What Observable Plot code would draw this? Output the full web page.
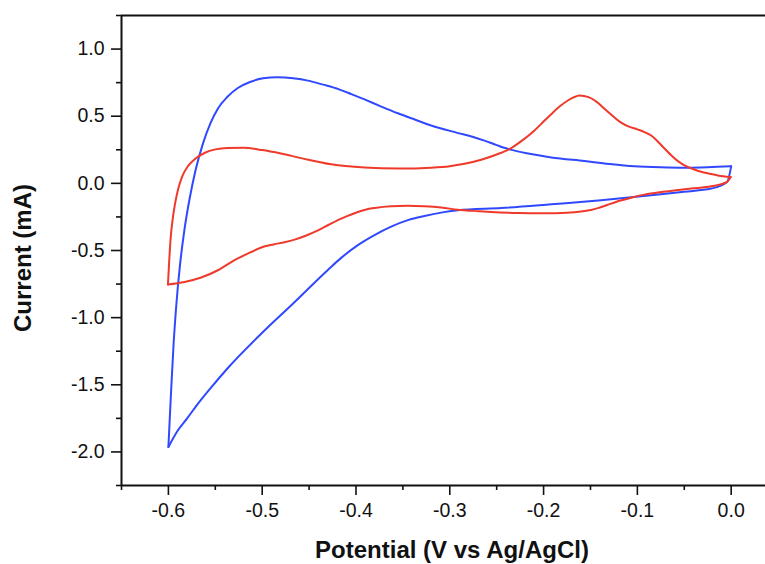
<!DOCTYPE html>
<html><head><meta charset="utf-8">
<script src="https://cdn.jsdelivr.net/npm/d3@7"></script>
<script src="https://cdn.jsdelivr.net/npm/@observablehq/plot@0.6"></script>
<style>body{margin:0;background:#fff;overflow:hidden}</style>
</head><body><div id="chart"></div><script>
// Blue CV: anodic (upper) branch, potential V vs Ag/AgCl and current mA
const blueUpV = [-0.6000,-0.5975,-0.5945,-0.5915,-0.5875,-0.5830,-0.5770,-0.5710,-0.5630,-0.5550,-0.5470,-0.5370,-0.5260,-0.5130,-0.4990,-0.4840,-0.4670,-0.4500,-0.4350,-0.4180,-0.4050,-0.3909,-0.3730,-0.3553,-0.3380,-0.3198,-0.2930,-0.2750,-0.2630,-0.2500,-0.2364,-0.2150,-0.1919,-0.1564,-0.1300,-0.1031,-0.0750,-0.0498,-0.0250,0.0000];
const blueUpI = [-1.963,-1.60,-1.20,-0.90,-0.60,-0.35,-0.10,0.10,0.30,0.45,0.56,0.645,0.71,0.755,0.782,0.790,0.783,0.763,0.735,0.700,0.665,0.625,0.572,0.522,0.477,0.431,0.378,0.345,0.318,0.285,0.253,0.220,0.193,0.166,0.145,0.128,0.120,0.117,0.120,0.127];
// Blue CV: cathodic (lower) branch
const blueDownV = [-0.6000,-0.5900,-0.5800,-0.5700,-0.5550,-0.5366,-0.5011,-0.4656,-0.4300,-0.4158,-0.3980,-0.3803,-0.3625,-0.3447,-0.3270,-0.3092,-0.2914,-0.2452,-0.1919,-0.1386,-0.0853,-0.0500,-0.0213,-0.0043,0.0000];
const blueDownI = [-1.963,-1.84,-1.75,-1.655,-1.525,-1.375,-1.12,-0.885,-0.645,-0.555,-0.46,-0.385,-0.322,-0.274,-0.243,-0.218,-0.201,-0.184,-0.156,-0.126,-0.089,-0.062,-0.039,0.010,0.127];
// Red CV: anodic (upper) branch
const redUpV = [-0.6005,-0.5990,-0.5975,-0.5955,-0.5930,-0.5895,-0.5850,-0.5790,-0.5710,-0.5610,-0.5500,-0.5370,-0.5200,-0.5000,-0.4800,-0.4584,-0.4264,-0.3909,-0.3553,-0.3198,-0.3000,-0.2843,-0.2665,-0.2500,-0.2364,-0.2230,-0.2097,-0.2000,-0.1919,-0.1830,-0.1741,-0.1680,-0.1617,-0.1520,-0.1430,-0.1351,-0.1260,-0.1173,-0.1090,-0.1000,-0.0924,-0.0853,-0.0790,-0.0720,-0.0640,-0.0560,-0.0498,-0.0400,-0.0320,-0.0213,-0.0142,-0.0005];
const redUpI = [-0.753,-0.56,-0.40,-0.27,-0.155,-0.04,0.055,0.13,0.185,0.228,0.253,0.264,0.265,0.248,0.222,0.188,0.142,0.118,0.110,0.117,0.128,0.146,0.176,0.215,0.255,0.318,0.394,0.460,0.515,0.572,0.617,0.640,0.654,0.642,0.605,0.555,0.500,0.452,0.422,0.402,0.382,0.356,0.318,0.266,0.210,0.162,0.134,0.105,0.086,0.070,0.059,0.047];
// Red CV: cathodic (lower) branch
const redDownV = [-0.6005,-0.5828,-0.5650,-0.5472,-0.5295,-0.5117,-0.5011,-0.4880,-0.4762,-0.4656,-0.4530,-0.4406,-0.4300,-0.4158,-0.4050,-0.3980,-0.3900,-0.3800,-0.3625,-0.3450,-0.3270,-0.3092,-0.2914,-0.2700,-0.2559,-0.2274,-0.2000,-0.1750,-0.1564,-0.1493,-0.1400,-0.1279,-0.1190,-0.1101,-0.1010,-0.0924,-0.0746,-0.0590,-0.0426,-0.0213,-0.0043,-0.0005];
const redDownI = [-0.753,-0.734,-0.701,-0.647,-0.572,-0.511,-0.478,-0.455,-0.438,-0.419,-0.388,-0.350,-0.312,-0.262,-0.232,-0.213,-0.196,-0.183,-0.170,-0.167,-0.171,-0.180,-0.196,-0.207,-0.213,-0.220,-0.222,-0.218,-0.205,-0.198,-0.180,-0.151,-0.130,-0.114,-0.097,-0.084,-0.065,-0.052,-0.039,-0.022,0.011,0.047];

const xMajor = [-0.6,-0.5,-0.4,-0.3,-0.2,-0.1,0.0];
const xMinor = [-0.65,-0.55,-0.45,-0.35,-0.25,-0.15,-0.05];
const yMajor = [-2.0,-1.5,-1.0,-0.5,0.0,0.5,1.0];
const yMinor = [-2.25,-1.75,-1.25,-0.75,-0.25,0.25,0.75,1.25];
const xLabel = "Potential (V vs Ag/AgCl)";
const yLabel = "Current (mA)";

const pts = (V, I) => V.map((v, i) => ({V: v, I: I[i]}));
const blueUp = pts(blueUpV, blueUpI), blueDown = pts(blueDownV, blueDownI);
const redUp = pts(redUpV, redUpI), redDown = pts(redDownV, redDownI);
const BLUE = "#3049ff", RED = "#ef3a2b";

const plot = Plot.plot({
  width: 765, height: 564,
  marginLeft: 121, marginRight: 0, marginTop: 15, marginBottom: 79,
  x: {domain: [-0.65, 0.0366]},
  y: {domain: [-2.25, 1.25]},
  style: {fontFamily: "'Liberation Sans', Arial, sans-serif", fontSize: "19.5px", background: "white", color: "#111"},
  marks: [
    Plot.axisX(xMajor, {tickSize: 10, tickPadding: 8, tickFormat: d => d.toFixed(1), label: null, strokeWidth: 1.6}),
    Plot.axisX(xMinor, {tickSize: 5, tickFormat: () => "", label: null, strokeWidth: 1.6}),
    Plot.axisY(yMajor, {tickSize: 10, tickPadding: 7, tickFormat: d => d.toFixed(1), label: null, strokeWidth: 1.6}),
    Plot.axisY(yMinor, {tickSize: 5, tickFormat: () => "", label: null, strokeWidth: 1.6}),
    Plot.ruleY([-2.25], {stroke: "#111", strokeWidth: 2}),
    Plot.ruleY([1.25], {stroke: "#111", strokeWidth: 2}),
    Plot.ruleX([-0.65], {stroke: "#111", strokeWidth: 2}),
    Plot.line(blueUp, {x: "V", y: "I", stroke: BLUE, strokeWidth: 2, curve: "monotone-x"}),
    Plot.line(blueDown, {x: "V", y: "I", stroke: BLUE, strokeWidth: 2, curve: "monotone-x"}),
    Plot.line(redUp, {x: "V", y: "I", stroke: RED, strokeWidth: 2, curve: "monotone-x"}),
    Plot.line(redDown, {x: "V", y: "I", stroke: RED, strokeWidth: 2, curve: "monotone-x"})
  ]
});
document.getElementById("chart").appendChild(plot);
const svg = d3.select(plot);
svg.append("text").attr("x", 452).attr("y", 558).attr("text-anchor", "middle")
  .attr("font-weight", "bold").attr("font-size", 24).attr("fill", "#111").text(xLabel);
svg.append("text").attr("transform", "translate(31,258) rotate(-90)").attr("text-anchor", "middle")
  .attr("font-weight", "bold").attr("font-size", 24).attr("fill", "#111").text(yLabel);
</script></body></html>
